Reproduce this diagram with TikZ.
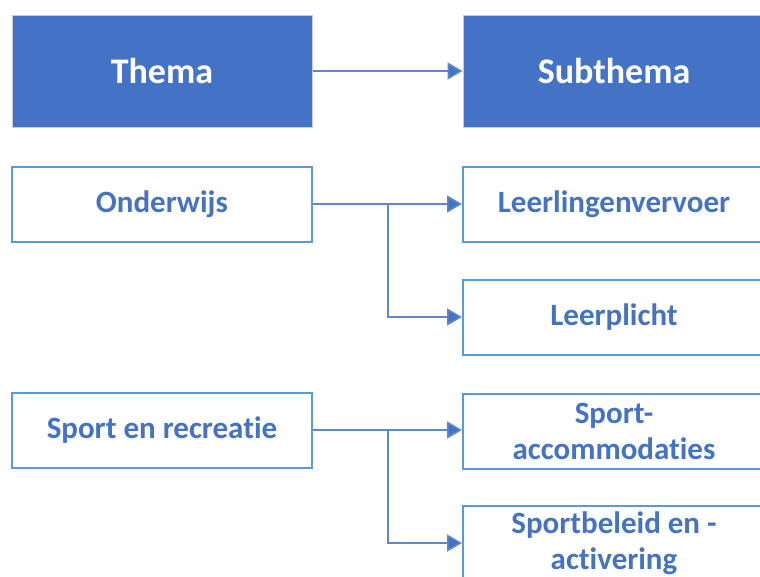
\documentclass[tikz,border=0pt]{standalone}
\usepackage{fontspec}
\setmainfont{Carlito}[Ligatures=NoCommon]
\usetikzlibrary{arrows.meta}
\definecolor{themablue}{HTML}{4472C4}
\definecolor{edgeblue}{HTML}{5B9BD5}
\definecolor{lineblue}{HTML}{5F87CC}
\tikzset{
  headbox/.style={rectangle, fill=themablue, draw=black!20, line width=1pt,
    text=white, font=\fontsize{36}{40}\selectfont\bfseries,
    minimum height=112pt, inner sep=0pt},
  itembox/.style={rectangle, fill=white, draw=edgeblue, line width=2pt,
    text=themablue, font=\fontsize{31}{36}\selectfont\bfseries,
    minimum height=75pt, inner sep=0pt, align=center},
  link/.style={draw=lineblue, line width=1.6pt,
    -{Triangle[length=15pt,width=17pt,fill=themablue]}},
}
\begin{document}
\begin{tikzpicture}[x=1pt,y=-1pt]
  \useasboundingbox[fill=white] (0,0) rectangle (760,576);
  \node[headbox, minimum width=300pt] (thema) at (162,71) {Thema};
  \node[headbox, minimum width=302pt] (sub) at (614,71) {Subthema};
  \node[itembox, minimum width=300pt] (onderwijs) at (162,204) {Onderwijs};
  \node[itembox, minimum width=302pt] (vervoer) at (614,204) {Leerlingenvervoer};
  \node[itembox, minimum width=302pt] (plicht) at (614,317) {Leerplicht};
  \node[itembox, minimum width=300pt] (sport) at (162,430) {Sport en recreatie};
  \node[itembox, minimum width=302pt] (accom) at (614,431) {Sport-\\accommodaties};
  \node[itembox, minimum width=302pt] (beleid) at (614,543) {Sportbeleid en -\\activering};
  \coordinate (ondsplit) at (388,204);
  \coordinate (sportsplit) at (388,430);
  \draw[link] (thema) -- (sub);
  \draw[link] (onderwijs) -- (vervoer);
  \draw[link] (ondsplit) |- (plicht);
  \draw[link] (sport) -- (sport -| accom.west);
  \draw[link] (sportsplit) |- (beleid);
\end{tikzpicture}
\end{document}
